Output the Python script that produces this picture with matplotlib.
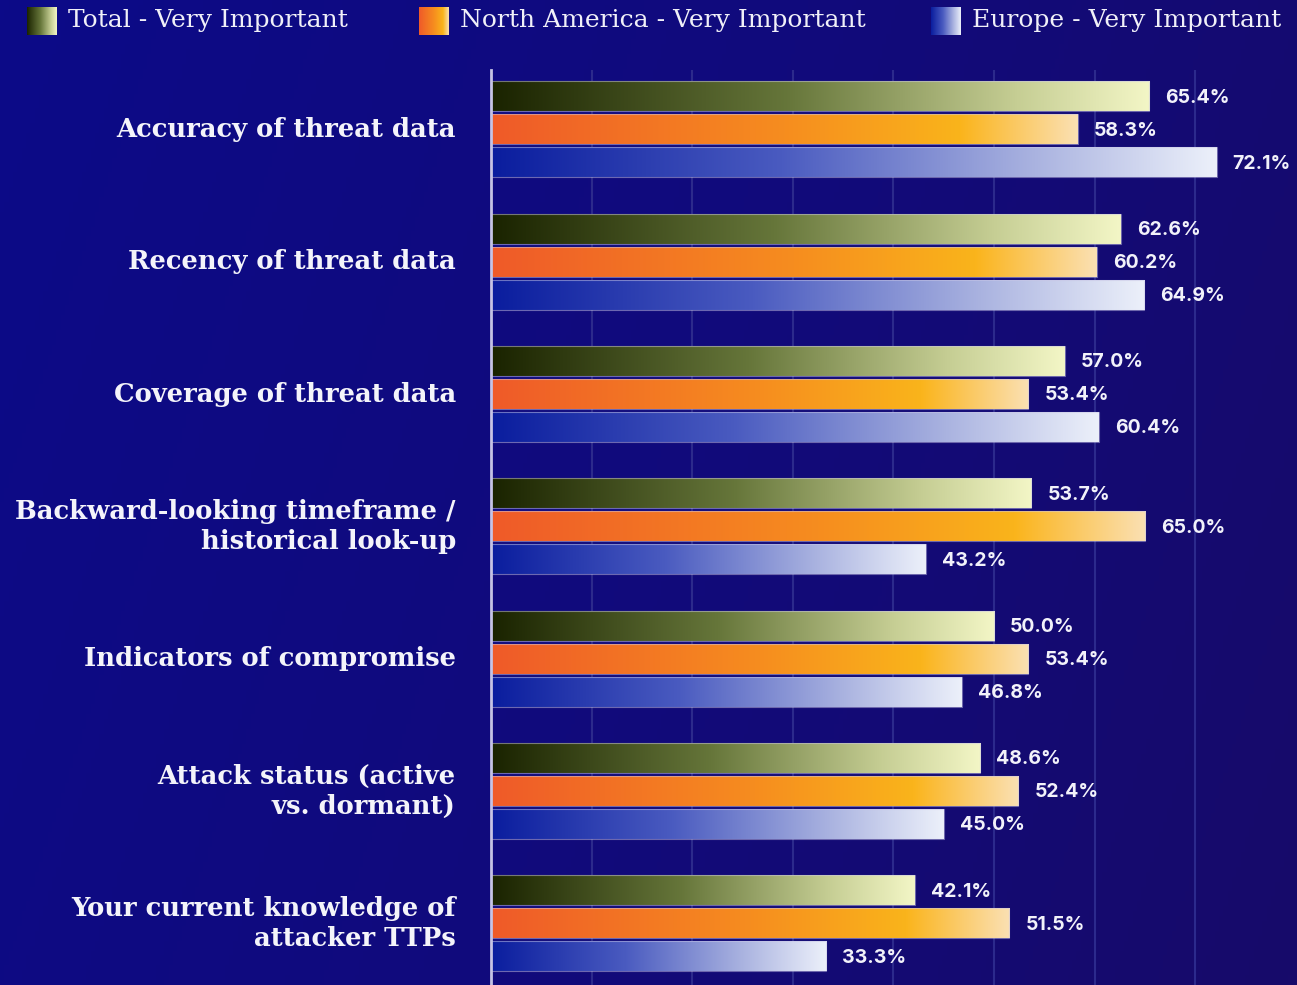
import numpy as np
import matplotlib
matplotlib.use("Agg")
import matplotlib.pyplot as plt
from matplotlib.colors import LinearSegmentedColormap

# ---- data -------------------------------------------------------------
categories = [
    "Accuracy of threat data",
    "Recency of threat data",
    "Coverage of threat data",
    "Backward-looking timeframe /\nhistorical look-up",
    "Indicators of compromise",
    "Attack status (active\nvs. dormant)",
    "Your current knowledge of\nattacker TTPs",
]
series_names = [
    "Total - Very Important",
    "North America - Very Important",
    "Europe - Very Important",
]
total_vals = [65.4, 62.6, 57.0, 53.7, 50.0, 48.6, 42.1]
north_america_vals = [58.3, 60.2, 53.4, 65.0, 53.4, 52.4, 51.5]
europe_vals = [72.1, 64.9, 60.4, 43.2, 46.8, 45.0, 33.3]

# ---- styling ----------------------------------------------------------
W, H, DPI = 1297, 985, 100
cmaps = [
    LinearSegmentedColormap.from_list(
        "total", [(0, "#1a2300"), (0.45, "#66763a"), (0.8, "#c6ce94"), (1, "#f3f6c6")]),
    LinearSegmentedColormap.from_list(
        "na", [(0, "#ef5a29"), (0.5, "#f68d1f"), (0.8, "#fab41b"), (1, "#fbe0b2")]),
    LinearSegmentedColormap.from_list(
        "eu", [(0, "#0a1d9e"), (0.4, "#4a5bc0"), (0.75, "#aab3e0"), (1, "#ecf0fa")]),
]
series = [total_vals, north_america_vals, europe_vals]
grad = np.linspace(0, 1, 256).reshape(1, -1)

fig = plt.figure(figsize=(W / DPI, H / DPI), dpi=DPI)

# background wash: royal blue on the left drifting to indigo on the right
bg = fig.add_axes([0, 0, 1, 1])
bx = np.linspace(0, 1, 300)
by = np.linspace(0, 1, 200)
X, Y = np.meshgrid(bx, by)
t = np.clip(0.8 * X + 0.2 * (1 - Y), 0, 1)
bg_cmap = LinearSegmentedColormap.from_list("bg", ["#0c0a88", "#110a7c", "#170a6a"])
bg.imshow(bg_cmap(t), aspect="auto", extent=(0, 1, 0, 1), origin="lower")
bg.set_axis_off()

# plotting area
ax_left = 491 / W
ax_top = 70
ax = fig.add_axes([ax_left, 0, 1 - ax_left, (H - ax_top) / H])
ax.set_facecolor("none")

pitch = 132.3              # px between groups
bar_h = 30 / pitch
bar_step = 33 / pitch
first_center = (129.5 - ax_top) / pitch
xlim = (0, 80.1)
ylim = ((H - ax_top) / pitch - first_center, -first_center)

for xg in np.arange(10, 80, 10):
    ax.axvline(xg, color="#2c2a8c", lw=1.5, zorder=0)

for gi in range(len(categories)):
    for si, vals in enumerate(series):
        v = vals[gi]
        yc = gi + (si - 1) * bar_step
        y0, y1 = yc - bar_h / 2, yc + bar_h / 2
        ax.imshow(grad, cmap=cmaps[si], aspect="auto",
                  extent=(0, v, y1, y0), zorder=2, interpolation="bilinear")
        ax.add_patch(plt.Rectangle((0, y0), v, bar_h, fill=False,
                                   ec="#c9c6e6", lw=0.8, alpha=0.5, zorder=3))
        ax.text(v + 1.6, yc + 0.01, f"{v:.1f}%", color="#f2f2fa", fontsize=14,
                fontfamily="Inter", fontweight="bold",
                va="center", ha="left", zorder=4)

ax.set_xlim(*xlim)
ax.set_ylim(*ylim)
ax.set_xticks([])
ax.set_yticks([])
for side in ("top", "right", "bottom"):
    ax.spines[side].set_visible(False)
ax.spines["left"].set_color("#c4c2e4")
ax.spines["left"].set_linewidth(2)

# category labels, right-aligned against the axis
for gi, name in enumerate(categories):
    ax.text(-3.5, gi, name, color="#f4f4fa", fontsize=18.6,
            fontfamily="DejaVu Serif", fontweight="bold",
            ha="right", va="center", multialignment="right",
            linespacing=1.25, clip_on=False)

# legend along the top
leg_x = [27, 419, 931]
for li, name in enumerate(series_names):
    lx = fig.add_axes([leg_x[li] / W, 1 - 35 / H, 30 / W, 28 / H])
    lx.imshow(grad, cmap=cmaps[li], aspect="auto", extent=(0, 1, 0, 1))
    lx.set_axis_off()
    fig.text((leg_x[li] + 41) / W, 1 - 21 / H, name, color="#f0f0f8",
             fontsize=18, fontfamily="DejaVu Serif", va="center", ha="left")

fig.savefig("out.png", dpi=DPI, facecolor="#0c0a88")
